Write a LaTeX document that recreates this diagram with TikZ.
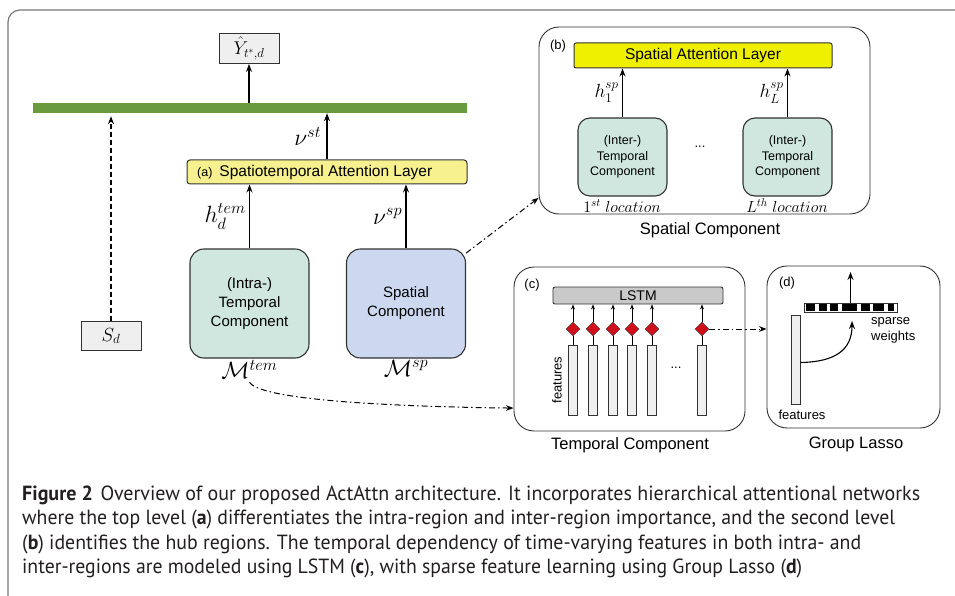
\RequirePackage{fix-cm}
\documentclass[tikz,border=0pt]{standalone}
\usepackage[no-math]{fontspec}
\setmainfont{Liberation Sans}
\newfontfamily\capfont{PT Sans}
\usepackage{amsmath, amssymb}
\usepackage{graphicx}
\usepackage{xcolor}
\usepackage{tikz}
\usetikzlibrary{arrows.meta, positioning, calc, shapes.geometric}
\definecolor{framegray}{RGB}{120, 120, 120}
\definecolor{linec}{RGB}{50, 50, 50}
\definecolor{tealfill}{RGB}{207, 231, 223}
\definecolor{bluefill}{RGB}{203, 216, 239}
\definecolor{softyellow}{RGB}{246, 240, 142}
\definecolor{brightyellow}{RGB}{238, 240, 0}
\definecolor{lstmgray}{RGB}{201, 201, 201}
\definecolor{gatered}{RGB}{208, 16, 26}
\definecolor{outgray}{RGB}{239, 239, 239}
\definecolor{fusegreen}{RGB}{106, 154, 62}
\definecolor{captext}{RGB}{35, 31, 32}
\newcommand{\fs}[1]{\fontsize{#1}{#1}\selectfont}
\newcommand{\fsl}[2]{\fontsize{#1}{#2}\selectfont}
\newcommand{\capline}[2]{\resizebox{#1}{\height}{#2}}

\begin{document}
\begin{tikzpicture}[x=1pt, y=-1pt, >=Stealth,
    arr/.style={->, line width=1.1pt, draw=black},
    dd/.style={->, line width=1pt, dash pattern=on 6pt off 3pt on 1.5pt off 3pt},
    panel/.style={draw=linec, line width=0.9pt, fill=white, rounded corners=20pt, inner sep=0},
    comp/.style={draw=linec, line width=1.1pt, rounded corners=14pt, align=center,
                 inner sep=0, text=black},
    flat/.style={draw=linec, line width=0.9pt, fill=outgray, inner sep=0},
    feat/.style={draw=linec, line width=0.7pt, fill=outgray, minimum width=9pt,
                 inner sep=0},
    gate/.style={diamond, draw=linec, line width=0.4pt, fill=gatered,
                 minimum size=14pt, inner sep=0},
    mlab/.style={font=\fs{23.5}},
    note/.style={font=\fs{13}}]
  \clip (0,0) rectangle (955,596);

  % outer figure frame
  \draw[framegray, line width=1.2pt, rounded corners=12pt]
    (8,650) -- (8,10) -- (1000,10);

  % output and fusion bar
  \node[flat, minimum width=60pt, minimum height=30pt, font=\fs{18.5}] (yhat)
    at (249,48.5) {$\hat{Y}_{t^*,d}$};
  \node[fill=fusegreen, minimum width=434pt, minimum height=10pt, inner sep=0]
    (fuse) at (250,108) {};
  \draw[arr] (yhat.south |- fuse.north) -- (yhat.south);

  % static features
  \node[flat, minimum width=60pt, minimum height=29pt, font=\fs{19}] (sd)
    at (111,336) {$S_d$};
  \draw[arr, dashed, dash pattern=on 5pt off 3pt, shorten >=3pt]
    (sd.north) -- (sd.north |- fuse.south);

  % (a) spatiotemporal attention
  \node[draw=linec, line width=1pt, fill=softyellow, rounded corners=3pt,
        minimum width=280pt, minimum height=24pt, inner sep=0] (stlayer)
    at (327,172) {};
  \node[anchor=west, inner sep=0] (stlabel) at (197,172.5)
    {\fs{12.5}(a)\hspace{7pt}\fs{15.5}Spatiotemporal Attention Layer};
  \draw[arr] (stlayer.north) -- (stlayer.north |- fuse.south)
    node[midway, left=2pt, mlab] {$\nu^{st}$};

  % intra temporal and spatial components
  \node[comp, fill=tealfill, minimum width=119pt, minimum height=109pt,
        font=\fsl{15}{19}] (tem) at (249.5,303.5) {(Intra-)\\Temporal\\Component};
  \node[comp, fill=bluefill, minimum width=119pt, minimum height=109pt,
        font=\fsl{15}{19}] (spa) at (406,303.5) {Spatial\\Component};
  \draw[arr] (tem.north) -- (tem.north |- stlayer.south)
    node[midway, left=0pt, mlab] {$h_d^{tem}$};
  \draw[arr] (spa.north) -- (spa.north |- stlayer.south)
    node[midway, left=0pt, mlab] {$\nu^{sp}$};
  \node[mlab, below=-2pt of tem] (mtem) {$\mathcal{M}^{tem}$};
  \node[mlab, below=-2pt of spa] (msp) {$\mathcal{M}^{sp}$};

  % (b) spatial component
  \node[panel, minimum width=331pt, minimum height=187pt] (bbox) at (704.5,120.5) {};
  \node[note] (blab) at (558,46) {(b)};
  \node[draw=linec, line width=1pt, fill=brightyellow, rounded corners=2pt,
        minimum width=258pt, minimum height=25pt, inner sep=0, font=\fs{15.5}]
    (splayer) at (703,55.5) {Spatial Attention Layer};
  \node[comp, fill=tealfill, rounded corners=12pt, minimum width=89pt,
        minimum height=78pt, font=\fsl{12.5}{15.5}] (inter1) at (622.5,157)
    {(Inter-)\\Temporal\\Component};
  \node[comp, fill=tealfill, rounded corners=12pt, minimum width=89pt,
        minimum height=78pt, font=\fsl{12.5}{15.5}] (interL) at (787.5,157)
    {(Inter-)\\Temporal\\Component};
  \draw[arr] (inter1.north) -- (inter1.north |- splayer.south)
    node[midway, left=0pt, font=\fs{19}] {$h_1^{sp}$};
  \draw[arr] (interL.north) -- (interL.north |- splayer.south)
    node[midway, left=0pt, font=\fs{19}] {$h_L^{sp}$};
  \node[note] (bdots) at (700,147) {...};
  \node[font=\fs{16}] (loc1) at (622,206) {$1^{st}\ location$};
  \node[font=\fs{16}] (locL) at (787,206) {$L^{th}\ location$};
  \node[font=\fs{16.5}] (bname) at (710,230) {Spatial Component};
  \draw[dd] (spa.40) -- (bbox.205);

  % (c) temporal component
  \node[panel, minimum width=231pt, minimum height=164pt] (cbox) at (629.5,349) {};
  \node[note] (clab) at (532,285) {(c)};
  \node[draw=linec, line width=0.9pt, fill=lstmgray, rounded corners=2pt,
        minimum width=170pt, minimum height=17pt, inner sep=0, font=\fs{14}]
    (lstm) at (638,295.5) {LSTM};
  \foreach \x [count=\i] in {573,593,613,632,652,702} {
    \node[gate] (gt\i) at (\x,329) {};
    \node[feat, minimum height=70pt] (ft\i) at (\x,380) {};
    \draw[->, line width=0.8pt, >={Stealth[length=5pt,width=4pt]}]
      (gt\i.north) -- (gt\i.north |- lstm.south);
    \draw[line width=0.8pt] (ft\i.north) -- (gt\i.south);
  }
  \node[note, rotate=90] (cfeat) at (557,380) {features};
  \node[note] (cdots) at (676,368) {...};
  \node[font=\fs{16.5}] (cname) at (630,445) {Temporal Component};
  \draw[dd] (mtem.south) .. controls (262,402) and (420,407) .. (cbox.207);

  % (d) group lasso
  \node[panel, minimum width=173pt, minimum height=162pt] (dbox) at (853.5,347) {};
  \node[note] (dlab) at (787,283) {(d)};
  \node[draw=linec, line width=0.6pt, fill=white, minimum width=93pt,
        minimum height=9pt, inner sep=0] (wbar) at (850.5,307.5) {};
  \foreach \a/\b in {806/815, 819/827, 830/838, 842/857, 861/870, 873/884, 888/894}
    \fill[black] (\a,304) rectangle (\b,311);
  \coordinate (wout) at (850.5,272);
  \draw[arr] (wbar.north) -- (wout);
  \node[feat, minimum height=89pt] (fbar) at (795.5,359.5) {};
  \coordinate (wtip) at (852,321);
  \draw[arr] ([yshift=-3pt]fbar.east) .. controls (835,362) and (852,350) .. (wtip);
  \node[anchor=north west, align=left, inner sep=0, font=\fsl{13}{16}] (swts)
    at (871,317) {sparse\\weights};
  \node[note] (dfeat) at (802,415) {features};
  \node[font=\fs{16.5}] (dname) at (856,444) {Group Lasso};
  \draw[dd] (gt6.east) -- (gt6.east -| dbox.west);

  % caption
  \begin{scope}[every node/.style={anchor=west, inner sep=0, text=captext,
                font=\capfont\fs{20.5}}]
    \node (cap1) at (22,495) {\capline{898pt}{\textbf{Figure 2}\hspace{8pt}Overview of
      our proposed ActAttn architecture. It incorporates hierarchical attentional networks}};
    \node (cap2) at (22,519.5) {\capline{873pt}{where the top level (\textbf{a})
      differentiates the intra-region and inter-region importance, and the second level}};
    \node (cap3) at (22,544) {\capline{839pt}{(\textbf{b}) identifies the hub regions.
      The temporal dependency of time-varying features in both intra- and}};
    \node (cap4) at (22,568.5) {\capline{780pt}{inter-regions are modeled using LSTM
      (\textbf{c}), with sparse feature learning using Group Lasso (\textbf{d})}};
  \end{scope}
\end{tikzpicture}
\end{document}
